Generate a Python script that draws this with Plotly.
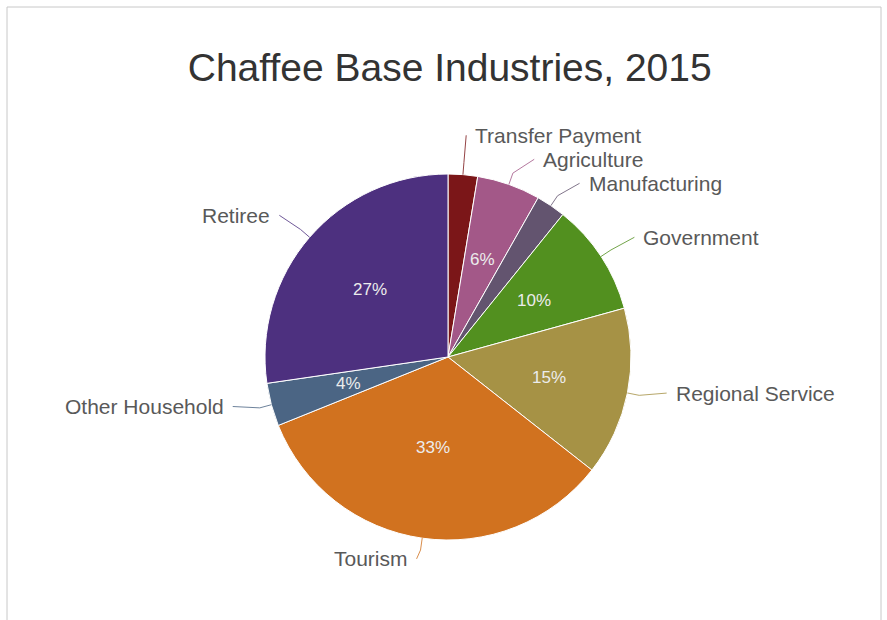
import numpy as np
import plotly.graph_objects as go

# data (percent of base employment)
categories = ["Transfer Payment", "Agriculture", "Manufacturing", "Government",
              "Regional Service", "Tourism", "Other Household", "Retiree"]
shares = [2.6, 5.6, 2.6, 9.9, 14.9, 33.3, 3.8, 27.3]
colors = ["#7b1618", "#a35888", "#63546f", "#52901f",
          "#a69245", "#d1721f", "#4b6584", "#4d307f"]

title_text = "Chaffee Base Industries, 2015"

# geometry (pixels)
W, H = 887, 620
CX, CY, R = 448, 357, 183
LABEL_CY = CY - 5
RING_X, RING_Y = R + 40, (R + 40) * 0.937
INNER_R = 103
LINE_H = 24
FONT = "Liberation Sans, Arial, sans-serif"


def to_paper(x, y):
    return x / W, 1 - y / H


def spread(targets, spacing):
    # push labels apart in clusters, keeping each cluster centred on its targets
    order = sorted(range(len(targets)), key=lambda i: targets[i])
    clusters = []
    for i in order:
        clusters.append([[i], targets[i]])
        while len(clusters) > 1:
            prev, last = clusters[-2], clusters[-1]
            if prev[1] + len(prev[0]) * spacing <= last[1]:
                break
            members = prev[0] + last[0]
            start = np.mean([targets[m] - k * spacing for k, m in enumerate(members)])
            clusters[-2:] = [[members, start]]
    out = {}
    for members, start in clusters:
        for k, m in enumerate(members):
            out[m] = start + k * spacing
    return out


vals = np.array(shares, dtype=float)
frac = vals / vals.sum()
mid = (np.cumsum(frac) - frac / 2) * 2 * np.pi  # clockwise from 12 o'clock

fig = go.Figure(go.Pie(
    labels=categories,
    values=shares,
    sort=False,
    direction="clockwise",
    rotation=0,
    marker=dict(colors=colors, line=dict(color="white", width=1)),
    textinfo="none",
    hoverinfo="label+percent",
    domain=dict(x=[(CX - R) / W, (CX + R) / W], y=[1 - (CY + R) / H, 1 - (CY - R) / H]),
))

annotations = []
shapes = []

# percentages inside the larger slices
for i, v in enumerate(shares):
    if v < 3.5:
        continue
    x, y = CX + INNER_R * np.sin(mid[i]), CY - INNER_R * np.cos(mid[i])
    xp, yp = to_paper(x, y)
    annotations.append(dict(x=xp, y=yp, xref="paper", yref="paper", text=f"{round(v)}%",
                            showarrow=False, font=dict(family=FONT, size=17, color="#ececec")))

# outside labels with connectors
right = [i for i in range(len(shares)) if mid[i] < np.pi]
left = [i for i in range(len(shares)) if mid[i] >= np.pi]
for side in (right, left):
    targets = [LABEL_CY - RING_Y * np.cos(mid[i]) for i in side]
    ys = spread(targets, LINE_H)
    for k, i in enumerate(side):
        y = ys[k]
        t = np.clip((y - LABEL_CY) / RING_Y, -1, 1)
        dx = RING_X * np.sqrt(1 - t * t)
        ax_ = RING_X * np.sin(mid[i])
        if mid[i] < np.pi:
            x = CX + max(dx, ax_)
            tx, anchor = x + 7, "left"
        else:
            x = CX - max(dx, -ax_)
            tx, anchor = x - 7, "right"
        ex, ey = CX + R * np.sin(mid[i]), CY - R * np.cos(mid[i])
        bx, by = CX + (R + 12) * np.sin(mid[i]), CY - (R + 12) * np.cos(mid[i])
        p = [to_paper(ex, ey), to_paper(bx, by), to_paper(x, y)]
        shapes.append(dict(type="path", xref="paper", yref="paper",
                           path=f"M {p[0][0]} {p[0][1]} L {p[1][0]} {p[1][1]} L {p[2][0]} {p[2][1]}",
                           line=dict(color=colors[i], width=1), opacity=0.8))
        txp, typ = to_paper(tx, y)
        annotations.append(dict(x=txp, y=typ, xref="paper", yref="paper", text=categories[i],
                                showarrow=False, xanchor=anchor, yanchor="middle",
                                font=dict(family=FONT, size=21, color="#595959")))

# chart frame
shapes.append(dict(type="rect", xref="paper", yref="paper",
                   x0=7 / W, x1=881 / W, y0=-0.05, y1=1 - 7 / H,
                   line=dict(color="#c8c8c8", width=1)))

fig.update_layout(
    width=W, height=H,
    margin=dict(l=0, r=0, t=0, b=0),
    paper_bgcolor="white",
    plot_bgcolor="white",
    showlegend=False,
    title=dict(text=title_text, x=0.507, xanchor="center", y=1 - 67 / H, yanchor="middle",
               font=dict(family=FONT, size=39, color="#333333")),
    annotations=annotations,
    shapes=shapes,
)

fig.write_html("out.html", config={"displayModeBar": False},
               post_script="document.body.style.margin='0';")
